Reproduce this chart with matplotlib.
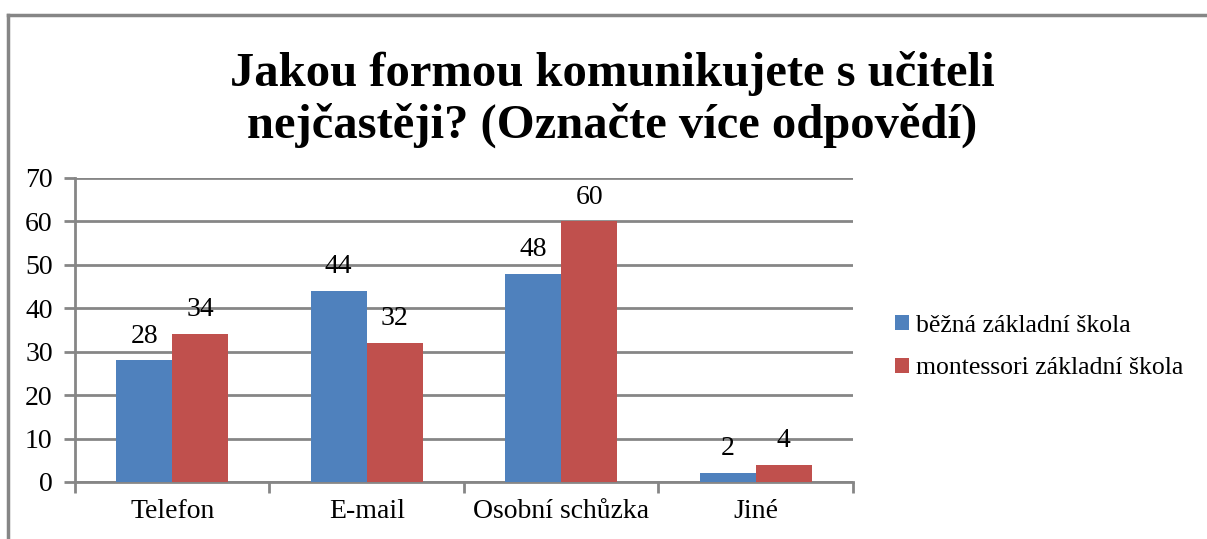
import matplotlib.pyplot as plt
import matplotlib.lines as mlines
import numpy as np

plt.rcParams['font.family'] = ['Liberation Serif', 'DejaVu Serif']

categories = ["Telefon", "E-mail", "Osobní schůzka", "Jiné"]
series_names = ["běžná základní škola", "montessori základní škola"]
bezna = [28, 44, 48, 2]
montessori = [34, 32, 60, 4]
yticks = [0, 10, 20, 30, 40, 50, 60, 70]

blue = "#4F81BD"
red = "#C0504D"
grid = "#868686"

fig = plt.figure(figsize=(12.07, 5.39), dpi=100)
ax = fig.add_axes([0.0621, 0.1058, 0.6446, 0.564])

x = np.arange(len(categories))
w = 0.288
b1 = ax.bar(x - w / 2, bezna, w, color=blue, label=series_names[0], zorder=3)
b2 = ax.bar(x + w / 2, montessori, w, color=red, label=series_names[1], zorder=3)

for bars, vals in ((b1, bezna), (b2, montessori)):
    for r, v in zip(bars, vals):
        ax.text(r.get_x() + r.get_width() / 2, v + 5.6, str(v),
                ha="center", va="center", fontsize=20)

ax.set_xlim(-0.5, len(categories) - 0.5)
ax.set_ylim(0, 70)
ax.set_yticks(yticks)
ax.yaxis.grid(True, color=grid, linewidth=2)
ax.set_axisbelow(True)

ax.set_xticks(x)
ax.set_xticklabels(categories, fontsize=20)
ax.set_xticks(np.arange(-0.5, len(categories), 1), minor=True)
ax.tick_params(axis="x", which="major", length=0, pad=12)
ax.tick_params(axis="x", which="minor", length=8, width=2, color=grid)
ax.tick_params(axis="y", length=8, width=2, color=grid, labelsize=20, pad=8)

for s in ("top", "right"):
    ax.spines[s].set_visible(False)
for s in ("left", "bottom"):
    ax.spines[s].set_color(grid)
    ax.spines[s].set_linewidth(2)

fig.text(0.507, 0.815, "Jakou formou komunikujete s učiteli\nnejčastěji? (Označte více odpovědí)",
         ha="center", va="center", fontsize=35, fontweight="bold", linespacing=1.2)

ax.legend(loc="center left", bbox_to_anchor=(0.722, 0.356), bbox_transform=fig.transFigure,
          frameon=False, fontsize=18.5, handlelength=0.55, handleheight=0.55,
          handletextpad=0.3, labelspacing=0.8)

# outer chart frame
fig.add_artist(mlines.Line2D([8 / 1207, 8 / 1207], [0, 1 - 15 / 539], color=grid, linewidth=2.5))
fig.add_artist(mlines.Line2D([8 / 1207, 1], [1 - 15 / 539, 1 - 15 / 539], color=grid, linewidth=2.5))

fig.savefig("out.png", dpi=100)
